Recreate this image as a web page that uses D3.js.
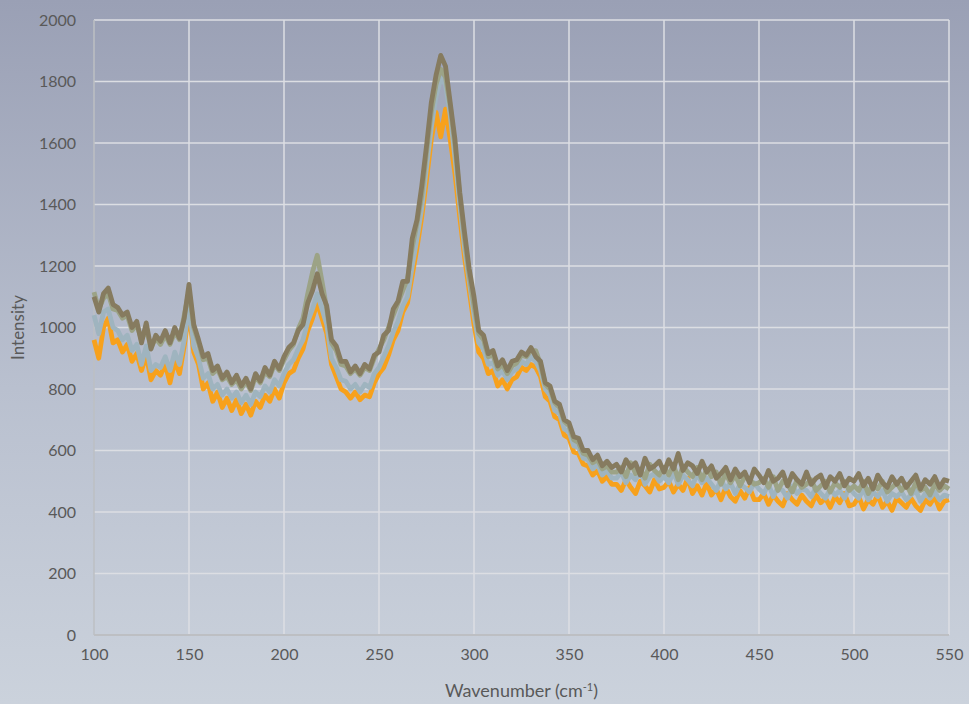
<!DOCTYPE html>
<html>
<head>
<meta charset="utf-8">
<script src="https://cdn.jsdelivr.net/npm/d3@7/dist/d3.min.js"></script>
<style>
  html, body { margin: 0; padding: 0; }
  body { width: 969px; height: 704px; overflow: hidden; }
  svg text { font-family: Lato, "Open Sans", sans-serif; fill: #595959; }
</style>
</head>
<body>
<div id="chart"></div>
<script>
// wavenumber grid: 100 .. 550 in steps of 2.5 (10 values per row = 25 cm-1)
var xStart = 100, xStep = 2.5;

var orangeVals = [
  960,900,1000,1030,950,960,920,945,890,915,
  860,910,830,860,845,880,820,890,850,940,
  1050,920,880,800,820,760,790,740,770,730,
  765,720,750,715,760,740,780,760,800,770,
  820,850,860,900,930,990,1030,1080,1030,980,
  880,840,800,790,770,790,765,780,775,820,
  850,870,910,960,990,1050,1080,1170,1260,1360,
  1480,1610,1700,1620,1710,1610,1500,1360,1230,1120,
  1010,920,900,850,860,810,830,800,830,840,
  870,860,880,870,840,775,760,710,700,650,
  640,595,590,555,550,520,535,500,515,490,
  490,470,505,480,460,500,485,465,505,475,
  480,500,465,490,470,510,460,485,455,495,
  455,475,440,480,450,435,470,445,480,440,
  440,460,425,455,435,420,460,440,425,455,
  435,420,455,430,445,415,450,430,460,420,
  425,450,410,440,425,455,415,435,405,445,
  430,415,445,420,405,440,425,450,410,435,
  440
];

var blueVals = [
  1040,980,1050,1060,1000,990,960,975,925,945,
  880,940,860,880,870,905,860,920,880,960,
  1070,940,900,835,850,800,815,780,800,770,
  790,755,780,750,790,775,810,790,830,810,
  850,880,895,930,960,1020,1060,1110,1060,1010,
  900,870,830,825,800,815,790,815,805,850,
  870,905,940,985,1020,1070,1100,1200,1290,1390,
  1520,1650,1750,1810,1790,1690,1550,1400,1260,1150,
  1040,950,930,880,885,845,860,830,855,865,
  890,880,905,890,860,800,780,730,720,670,
  660,615,610,575,570,540,555,520,535,510,
  510,530,495,520,505,535,490,515,525,500,
  515,495,530,490,520,505,485,525,495,510,
  490,470,505,475,495,460,490,480,465,495,
  475,460,490,450,480,470,445,485,460,475,
  470,450,480,460,445,475,455,470,445,480,
  460,445,475,440,465,450,470,435,460,450,
  465,440,455,470,435,460,445,465,440,455,
  450
];

var oliveVals = [
  1115,1060,1095,1110,1060,1055,1030,1040,990,1010,
  960,995,935,965,945,975,945,985,960,1040,
  1120,1000,950,895,900,850,865,830,840,815,
  830,800,825,795,840,820,855,840,880,860,
  895,925,945,995,1030,1110,1180,1235,1150,1060,
  950,925,880,875,850,865,845,870,860,900,
  930,960,1000,1040,1080,1120,1160,1260,1340,1430,
  1570,1700,1790,1840,1815,1720,1590,1430,1290,1170,
  1070,980,960,905,910,865,880,850,875,885,
  910,905,925,925,880,815,800,755,740,695,
  680,635,625,590,585,560,570,540,550,530,
  530,545,515,560,525,540,510,555,535,520,
  545,520,555,505,550,530,515,545,505,540,
  515,530,490,525,495,520,485,515,505,490,
  495,510,480,515,470,500,490,465,505,480,
  490,505,470,485,500,465,495,480,500,470,
  485,470,500,460,490,475,500,465,480,495,
  470,490,460,495,470,480,455,490,470,485,
  475
];

var brownVals = [
  1100,1050,1110,1128,1075,1065,1040,1050,1000,1020,
  950,1015,930,975,955,990,950,1000,965,1030,
  1140,1010,960,905,915,860,875,835,855,820,
  845,810,835,800,850,825,870,845,890,865,
  905,935,950,990,1010,1080,1120,1175,1110,1070,
  960,940,890,890,855,875,850,880,865,910,
  920,975,990,1060,1085,1150,1150,1290,1350,1460,
  1590,1730,1820,1885,1850,1730,1610,1440,1310,1190,
  1100,990,975,915,925,875,895,860,890,895,
  920,910,935,905,890,820,810,760,750,700,
  690,645,640,600,600,570,585,550,565,545,
  555,530,570,545,560,520,575,540,550,565,
  530,570,540,590,535,560,550,525,565,530,
  550,510,525,545,505,540,515,530,495,540,
  520,495,535,500,510,530,485,525,505,490,
  530,490,510,520,480,515,500,525,485,510,
  500,525,485,510,475,520,495,480,515,490,
  510,480,500,520,475,505,490,515,480,505,
  500
];

var seriesColors = ['#f7a11c', '#9fb4bf', '#9ca386', '#867b5f'];
var seriesValues = [orangeVals, blueVals, oliveVals, brownVals];

var xTicks = [100, 150, 200, 250, 300, 350, 400, 450, 500, 550];
var yTicks = [0, 200, 400, 600, 800, 1000, 1200, 1400, 1600, 1800, 2000];

var width = 969, height = 704;
var margin = { top: 20, right: 20, bottom: 69, left: 94 };

var svg = d3.select('#chart').append('svg')
  .attr('width', width)
  .attr('height', height);

var defs = svg.append('defs');
var grad = defs.append('linearGradient')
  .attr('id', 'bg')
  .attr('x1', 0).attr('y1', 0).attr('x2', 0).attr('y2', 1);
grad.append('stop').attr('offset', '0%').attr('stop-color', '#9aa0b5');
grad.append('stop').attr('offset', '55%').attr('stop-color', '#b9c0cf');
grad.append('stop').attr('offset', '100%').attr('stop-color', '#cbd2dc');

svg.append('rect')
  .attr('width', width).attr('height', height)
  .attr('fill', 'url(#bg)');

var x = d3.scaleLinear().domain([100, 550]).range([margin.left, width - margin.right]);
var y = d3.scaleLinear().domain([0, 2000]).range([height - margin.bottom, margin.top]);

// grid
var grid = svg.append('g').attr('class', 'grid');
grid.selectAll('line.h').data(yTicks.slice(1)).enter().append('line')
  .attr('x1', x(100)).attr('x2', x(550))
  .attr('y1', function(d) { return y(d); })
  .attr('y2', function(d) { return y(d); })
  .attr('stroke', '#dcdee3').attr('stroke-width', 1.5);
grid.selectAll('line.v').data(xTicks.slice(1)).enter().append('line')
  .attr('y1', y(0)).attr('y2', y(2000))
  .attr('x1', function(d) { return x(d); })
  .attr('x2', function(d) { return x(d); })
  .attr('stroke', '#dcdee3').attr('stroke-width', 1.5);

// axis lines
svg.append('line')
  .attr('x1', x(100)).attr('x2', x(100)).attr('y1', y(0)).attr('y2', y(2000))
  .attr('stroke', '#bdbfc3').attr('stroke-width', 1.5);
svg.append('line')
  .attr('x1', x(100)).attr('x2', x(550)).attr('y1', y(0)).attr('y2', y(0))
  .attr('stroke', '#bdbfc3').attr('stroke-width', 2);

// series
var line = d3.line()
  .x(function(d, i) { return x(xStart + i * xStep); })
  .y(function(d) { return y(d); });

svg.append('g').attr('class', 'series')
  .selectAll('path').data(seriesValues).enter().append('path')
  .attr('d', line)
  .attr('fill', 'none')
  .attr('stroke', function(d, i) { return seriesColors[i]; })
  .attr('stroke-width', 4.8)
  .attr('stroke-linejoin', 'round');

// tick labels
var fmt = d3.format('d');
var xAxis = d3.axisBottom(x).tickValues(xTicks).tickFormat(fmt).tickSize(0).tickPadding(14);
var gx = svg.append('g').attr('transform', 'translate(0,' + y(0) + ')').call(xAxis);
gx.select('.domain').remove();
gx.selectAll('text').style('font-size', '16px').attr('fill', '#595959');

var yAxis = d3.axisLeft(y).tickValues(yTicks).tickFormat(fmt).tickSize(0).tickPadding(18);
var gy = svg.append('g').attr('transform', 'translate(' + x(100) + ',0)').call(yAxis);
gy.select('.domain').remove();
gy.selectAll('text').style('font-size', '16px').attr('fill', '#595959');

// titles
var xt = svg.append('text')
  .attr('x', (x(100) + x(550)) / 2)
  .attr('y', 697)
  .attr('text-anchor', 'middle')
  .style('font-size', '18px');
xt.append('tspan').text('Wavenumber (cm');
xt.append('tspan').attr('dy', -6).style('font-size', '11px').text('-1');
xt.append('tspan').attr('dy', 6).text(')');

svg.append('text')
  .attr('transform', 'translate(24,' + ((y(0) + y(2000)) / 2) + ') rotate(-90)')
  .attr('text-anchor', 'middle')
  .style('font-size', '17px')
  .text('Intensity');
</script>
</body>
</html>
